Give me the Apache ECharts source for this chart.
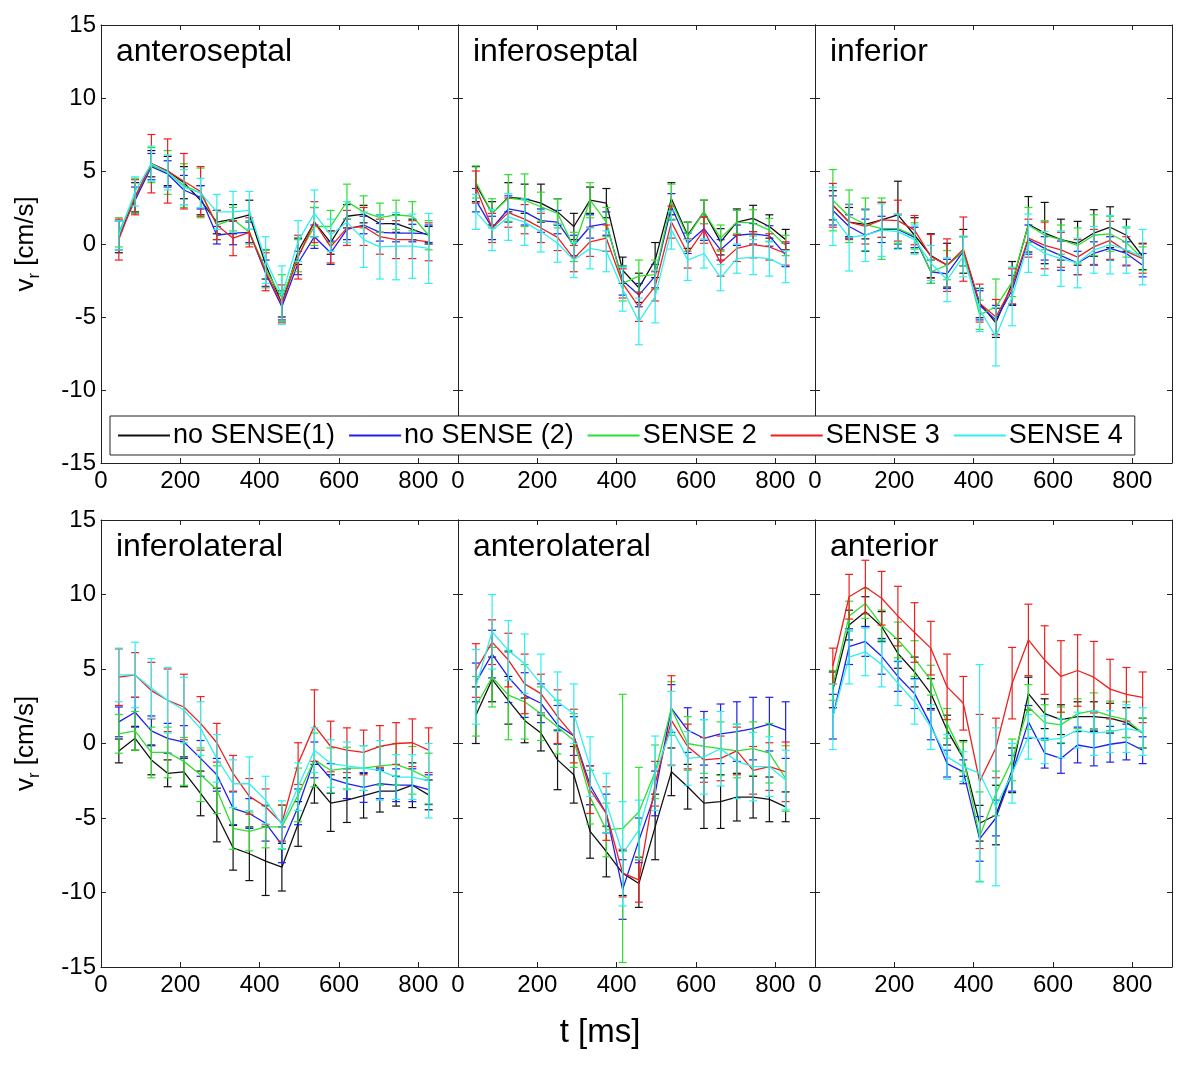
<!DOCTYPE html>
<html>
<head>
<meta charset="utf-8">
<script src="https://cdn.jsdelivr.net/npm/echarts@6/dist/echarts.min.js"></script>
<style>
html,body{margin:0;padding:0;background:#fff;}
#chart{width:1200px;height:1067px;}
</style>
</head>
<body>
<div id="chart"></div>
<script>
// ---------------- data ----------------
const times = [45, 86, 127, 168, 209, 251, 292, 333, 374, 415, 456, 497, 538, 579, 620, 662, 703, 744, 785, 826];
const seriesNames = ['no SENSE(1)', 'no SENSE (2)', 'SENSE 2', 'SENSE 3', 'SENSE 4'];
const panelTitles = ['anteroseptal', 'inferoseptal', 'inferior', 'inferolateral', 'anterolateral', 'anterior'];
const xTicks = [0, 200, 400, 600, 800];
const yTicks = [-15, -10, -5, 0, 5, 10, 15];

// rows: no SENSE(1), no SENSE (2), SENSE 2, SENSE 3, SENSE 4
const anteroseptalV = [
  [0.5, 3.2, 5.5, 5.0, 4.2, 3.0, 1.5, 1.7, 2.0, -1.4, -4.1, -0.5, 1.5, 0.1, 1.9, 2.05, 1.4, 1.4, 1.0, 0.6],
  [0.6, 3.0, 5.3, 4.8, 3.7, 3.2, 0.6, 0.75, 0.8, -2.0, -4.3, -1.3, 0.5, -0.6, 1.0, 1.3, 0.8, 0.75, 0.75, 0.7],
  [0.8, 3.3, 5.4, 4.9, 4.0, 3.5, 1.3, 1.7, 0.8, -1.7, -3.7, -0.8, 1.2, 1.2, 2.9, 2.2, 1.8, 2.0, 1.9, 0.6],
  [0.3, 3.2, 5.5, 5.0, 4.3, 3.6, 1.3, 0.4, 0.8, -1.9, -4.1, -0.9, 1.5, -0.2, 1.1, 1.2, 0.5, 0.3, 0.3, 0.15],
  [0.6, 3.6, 5.5, 4.9, 3.9, 3.5, 2.2, 2.2, 2.3, -1.1, -3.5, 0.2, 2.1, 0.6, 1.5, 0.3, -0.2, -0.15, -0.15, -0.3]
];
const anteroseptalE = [
  [1.1, 1.0, 0.9, 1.0, 1.1, 1.0, 0.8, 1.0, 1.0, 1.0, 0.9, 0.9, 1.0, 0.8, 0.8, 0.6, 0.6, 0.6, 0.7, 0.6],
  [1.0, 0.9, 0.9, 0.9, 1.0, 0.8, 0.6, 0.8, 0.7, 0.9, 0.9, 0.8, 0.8, 0.8, 0.7, 0.6, 0.6, 0.6, 0.6, 0.6],
  [1.0, 1.2, 1.2, 1.5, 1.5, 1.7, 1.0, 0.8, 0.8, 1.3, 1.6, 1.1, 1.3, 1.1, 1.2, 1.1, 1.0, 1.0, 1.0, 1.0],
  [1.4, 1.2, 2.0, 2.2, 1.9, 1.7, 1.0, 1.2, 1.0, 1.3, 1.3, 1.5, 1.4, 1.1, 1.2, 1.3, 1.2, 1.3, 1.3, 1.3],
  [1.0, 1.0, 1.2, 1.2, 1.2, 1.0, 1.2, 1.4, 1.3, 1.6, 2.0, 1.4, 1.6, 1.1, 1.4, 1.9, 2.2, 2.3, 2.2, 2.4]
];
const inferoseptalV = [
  [4.1, 2.1, 3.2, 3.1, 2.8, 2.2, 1.2, 3.0, 2.8, -1.8, -3.0, -1.1, 3.1, 0.6, 2.2, 0.15, 1.5, 1.75, 1.2, 0.3],
  [3.0, 1.1, 2.4, 2.2, 1.6, 1.5, -0.1, 1.2, 1.4, -2.5, -3.5, -2.2, 2.55, 0.05, 1.05, -0.4, 0.6, 0.7, 0.55, -0.75],
  [4.25, 2.1, 3.15, 3.0, 2.55, 2.1, -0.2, 3.0, 1.5, -2.7, -2.2, -2.1, 2.9, 0.5, 2.2, 0.4, 1.5, 1.45, 0.95, -0.1],
  [3.9, 1.1, 2.15, 1.7, 1.1, 0.45, -1.0, 0.15, 0.4, -2.7, -4.3, -2.9, 1.5, -0.65, 0.95, -1.3, -0.3, -0.05, -0.2, -0.65],
  [2.2, 0.95, 1.85, 1.5, 0.85, 0.05, -1.1, -0.3, -0.5, -3.1, -5.3, -3.6, 0.95, -1.1, -0.65, -2.3, -1.0, -0.9, -1.0, -1.55]
];
const inferoseptalE = [
  [1.2, 0.8, 1.0, 1.0, 1.3, 0.9, 0.9, 0.9, 1.0, 0.9, 1.0, 1.2, 1.1, 0.9, 0.8, 0.9, 0.9, 0.9, 0.8, 0.7],
  [0.8, 0.8, 0.9, 0.9, 0.8, 0.8, 0.7, 0.8, 0.8, 1.0, 0.8, 0.8, 0.9, 0.7, 0.8, 0.7, 0.7, 0.7, 0.7, 0.8],
  [1.1, 1.0, 1.6, 1.8, 1.0, 1.0, 1.0, 1.2, 1.0, 1.2, 1.1, 1.0, 1.2, 1.0, 0.8, 0.9, 0.8, 0.9, 0.8, 0.7],
  [1.1, 1.0, 1.0, 1.0, 1.0, 0.9, 0.9, 1.0, 0.9, 1.0, 1.0, 1.0, 1.1, 1.0, 0.9, 0.9, 0.9, 0.9, 0.9, 0.8],
  [1.2, 1.4, 1.6, 1.6, 1.4, 1.3, 1.2, 1.4, 1.4, 1.5, 1.6, 1.8, 1.3, 1.4, 1.0, 0.9, 1.0, 1.2, 1.2, 1.1]
];
const inferiorV = [
  [2.65, 1.5, 1.35, 1.65, 2.0, 0.6, -0.8, -1.45, -0.5, -4.05, -5.4, -2.7, 1.35, 0.75, 0.3, 0.05, 0.75, 1.15, 0.6, -0.85],
  [2.3, 1.2, 0.6, 1.0, 1.0, 0.45, -1.9, -2.05, -0.5, -4.2, -5.2, -3.15, 0.3, -0.3, -0.8, -1.3, -0.65, -0.3, -0.65, -1.45],
  [3.0, 1.9, 1.35, 1.05, 1.05, 0.55, -1.9, -1.45, -0.5, -4.85, -4.3, -2.6, 1.3, 0.6, 0.3, -0.1, 0.6, 0.7, 0.1, -1.0],
  [2.65, 1.5, 1.2, 1.65, 1.6, 0.95, -0.85, -1.45, -0.35, -4.05, -5.0, -2.9, 0.4, -0.1, -0.4, -0.9, -0.2, 0.25, -0.5, -1.0],
  [1.9, 0.45, 0.6, 0.95, 0.85, 0.3, -1.3, -2.45, -0.85, -4.5, -6.35, -3.6, 0.05, -0.65, -1.0, -1.3, -0.4, -0.05, -0.4, -0.9]
];
const inferiorE = [
  [1.0, 1.0, 1.0, 1.2, 2.3, 1.2, 1.5, 1.5, 1.5, 1.0, 1.0, 1.5, 1.9, 2.1, 1.4, 1.5, 1.6, 1.4, 1.1, 0.9],
  [1.0, 0.8, 1.1, 0.9, 1.0, 0.7, 0.8, 1.0, 1.0, 1.0, 1.0, 1.0, 1.0, 0.8, 1.0, 0.8, 0.8, 0.8, 0.8, 0.8],
  [2.1, 1.8, 1.8, 2.1, 1.0, 0.9, 0.8, 1.0, 1.0, 1.0, 1.9, 1.0, 1.2, 1.0, 1.0, 1.2, 1.4, 1.2, 1.0, 0.8],
  [1.5, 1.2, 1.2, 1.2, 1.4, 1.0, 1.5, 1.8, 2.2, 1.3, 1.2, 1.2, 1.3, 1.6, 1.2, 1.2, 1.2, 1.3, 1.0, 1.0],
  [2.0, 2.3, 1.8, 1.8, 1.2, 1.0, 1.2, 1.5, 1.4, 1.5, 2.0, 2.0, 2.0, 1.5, 1.9, 1.7, 1.6, 2.0, 1.6, 1.9]
];
const inferolateralV = [
  [-0.5, 0.35, -1.1, -2.0, -1.9, -3.35, -4.8, -7.0, -7.4, -7.9, -8.3, -5.4, -2.7, -4.0, -3.8, -3.5, -3.2, -3.2, -2.8, -3.45],
  [1.45, 2.1, 0.85, 0.35, 0.1, -1.0, -2.1, -4.35, -4.7, -5.35, -6.8, -4.25, -1.1, -2.35, -2.7, -2.95, -2.7, -2.8, -2.8, -3.1],
  [0.65, 0.85, -0.6, -0.6, -1.2, -2.1, -3.1, -5.7, -5.9, -5.6, -5.6, -3.45, -1.1, -1.8, -1.65, -1.65, -1.5, -1.4, -1.8, -2.35],
  [4.45, 4.6, 3.55, 2.9, 2.45, 1.35, 0.05, -2.0, -3.55, -4.25, -5.35, -1.35, 1.2, -0.2, -0.45, -0.6, -0.2, 0.0, 0.05, -0.45],
  [4.6, 4.6, 3.7, 2.9, 2.25, 1.0, -1.0, -2.7, -2.7, -3.8, -5.45, -2.9, -0.45, -1.35, -1.5, -1.65, -1.8, -2.25, -2.25, -2.5]
];
const inferolateralE = [
  [0.8, 0.8, 1.0, 0.9, 1.0, 1.5, 1.8, 1.5, 1.8, 2.3, 1.6, 1.5, 1.3, 1.9, 1.5, 1.5, 1.4, 1.0, 1.5, 1.0],
  [1.0, 1.0, 1.0, 1.0, 1.1, 1.2, 1.1, 1.1, 1.0, 1.2, 1.2, 1.2, 1.2, 1.0, 1.0, 1.0, 1.0, 1.1, 1.1, 1.0],
  [1.3, 1.3, 1.7, 1.7, 1.6, 1.8, 1.6, 1.4, 1.3, 1.4, 1.5, 1.8, 1.8, 1.5, 1.4, 1.5, 1.3, 1.4, 1.6, 1.7],
  [1.9, 1.5, 1.9, 2.1, 2.2, 1.8, 1.3, 1.2, 1.2, 1.2, 1.2, 1.4, 2.4, 1.7, 1.5, 1.5, 1.4, 1.4, 1.6, 1.5],
  [1.8, 2.2, 2.0, 2.2, 2.2, 1.8, 1.6, 1.6, 1.8, 1.6, 1.6, 1.6, 1.5, 1.6, 1.6, 1.5, 2.0, 1.5, 1.5, 2.5]
];
const anterolateralV = [
  [1.9, 4.3, 2.9, 1.55, 0.7, -1.1, -2.1, -5.9, -7.25, -8.7, -9.4, -5.6, -1.9, -2.9, -4.0, -3.9, -3.6, -3.6, -3.75, -4.25],
  [4.1, 6.0, 4.45, 3.25, 2.7, 1.25, 0.5, -2.8, -4.7, -9.8, -6.5, -3.35, 2.35, 0.9, 0.35, 0.65, 0.8, 1.0, 1.3, 0.9],
  [2.5, 4.45, 3.25, 2.8, 2.0, 1.1, 0.2, -3.6, -5.8, -5.7, -4.6, -1.9, 2.35, 0.0, -0.2, -0.35, -0.5, -0.35, -0.65, -2.35],
  [4.9, 6.8, 5.6, 4.0, 3.35, 1.8, 0.5, -3.1, -4.7, -8.7, -9.15, -2.7, 1.55, -0.2, -1.1, -1.0, -0.5, -1.8, -1.55, -1.9],
  [3.8, 7.5, 6.25, 5.35, 4.0, 2.8, 2.0, -1.55, -4.0, -7.4, -5.8, -2.0, 1.0, -1.0, -0.9, -0.35, -1.2, -1.55, -1.55, -2.45]
];
const anterolateralE = [
  [1.9, 1.5, 1.6, 1.5, 1.2, 2.0, 1.9, 1.8, 1.7, 1.5, 1.6, 2.2, 1.6, 1.5, 1.7, 1.8, 1.6, 1.4, 1.5, 1.0],
  [1.3, 1.6, 1.7, 1.5, 1.3, 1.3, 1.3, 1.3, 1.3, 2.0, 1.5, 1.5, 1.6, 1.5, 1.8, 2.0, 2.0, 2.1, 1.8, 1.9],
  [2.0, 2.0, 3.0, 2.5, 1.8, 1.8, 1.8, 1.8, 1.8, 9.0, 3.0, 1.8, 1.8, 1.8, 1.8, 1.8, 1.8, 1.8, 2.0, 2.2],
  [1.8, 1.5, 1.8, 2.0, 1.3, 1.8, 1.8, 1.6, 1.8, 1.6, 1.5, 1.5, 3.0, 1.5, 1.5, 1.5, 1.6, 1.6, 1.6, 2.0],
  [2.5, 2.5, 2.0, 2.0, 2.0, 2.0, 2.0, 2.0, 2.0, 3.5, 2.0, 2.5, 2.5, 1.8, 2.5, 2.5, 2.5, 2.3, 2.0, 2.0]
];
const anteriorV = [
  [3.6, 7.95, 8.85, 7.85, 6.05, 4.8, 3.35, 0.9, -1.0, -5.35, -4.8, -1.8, 3.35, 2.0, 1.6, 1.8, 1.8, 1.7, 1.4, 0.7],
  [1.8, 6.5, 6.85, 5.85, 4.5, 3.35, 1.25, -1.35, -1.9, -6.4, -5.0, -2.0, 1.45, -0.65, -1.0, -0.1, -0.3, -0.05, 0.1, -0.45],
  [3.9, 8.55, 9.4, 7.95, 6.95, 5.7, 4.25, 1.35, -0.9, -6.25, -3.35, -1.1, 2.45, 1.4, 1.25, 2.0, 2.2, 1.85, 1.6, 0.7],
  [5.2, 9.85, 10.5, 9.75, 8.55, 7.45, 6.4, 3.8, 2.7, -2.55, -0.3, 4.05, 6.95, 5.6, 4.5, 4.9, 4.45, 3.65, 3.3, 3.1],
  [1.8, 5.8, 6.15, 5.3, 4.05, 2.8, 1.1, -0.9, -1.55, -2.0, -4.25, -2.0, 0.45, 0.25, 0.35, 0.9, 0.7, 0.8, 1.0, 0.8]
];
const anteriorE = [
  [1.2, 1.0, 1.0, 1.0, 1.0, 1.0, 1.0, 1.0, 1.2, 1.2, 2.0, 1.5, 1.1, 1.0, 1.0, 1.0, 1.0, 1.0, 1.0, 1.0],
  [1.5, 1.2, 1.0, 1.2, 1.0, 1.0, 1.0, 0.9, 0.8, 1.5, 1.2, 1.2, 1.1, 1.0, 1.0, 1.2, 1.2, 1.2, 1.2, 0.9],
  [1.0, 1.0, 1.0, 1.0, 1.2, 1.2, 1.0, 1.0, 1.0, 3.0, 1.5, 1.4, 1.5, 1.2, 1.2, 1.0, 1.2, 1.0, 1.2, 1.0],
  [1.2, 1.5, 1.8, 1.8, 2.0, 2.0, 1.8, 2.2, 1.8, 4.5, 2.0, 2.4, 2.4, 2.3, 2.4, 2.4, 2.4, 2.0, 1.8, 1.7],
  [2.2, 1.8, 1.6, 1.5, 1.5, 1.5, 1.5, 1.5, 1.0, 7.3, 5.3, 2.0, 1.5, 1.6, 1.3, 1.2, 1.5, 1.4, 1.6, 1.6]
];

const panelValues = [anteroseptalV, inferoseptalV, inferiorV, inferolateralV, anterolateralV, anteriorV];
const panelErrors = [anteroseptalE, inferoseptalE, inferiorE, inferolateralE, anterolateralE, anteriorE];

// ---------------- style / layout ----------------
const colors = ['#111111', '#1f1fef', '#2fdf2f', '#ef1f1f', '#2fefef'];
const FONT = "Arial, 'Liberation Sans', sans-serif";
const colLeft = [101, 458, 815];
const panelW = 357;
const rowTop = [25, 520];
const rowH = [438, 447];

const grids = [], xAxes = [], yAxes = [], series = [], graphics = [];

function axLine() { return { show: true, onZero: false, lineStyle: { color: '#222', width: 1 } }; }
function axTick() { return { show: true, inside: true, length: 5, lineStyle: { color: '#222' } }; }

for (let p = 0; p < 6; p++) {
  const row = Math.floor(p / 3), col = p % 3;
  grids.push({ left: colLeft[col], top: rowTop[row], width: panelW, height: rowH[row], containLabel: false });
  xAxes.push({
    type: 'value', gridIndex: p, position: 'bottom', min: 0, max: 900, interval: 200,
    axisLine: axLine(), axisTick: axTick(), splitLine: { show: false },
    axisLabel: { show: true, showMaxLabel: false, color: '#000', fontSize: 24, fontFamily: FONT, margin: 6,
      formatter: v => (xTicks.indexOf(v) >= 0 ? String(v) : '') }
  });
  xAxes.push({
    type: 'value', gridIndex: p, position: 'top', min: 0, max: 900, interval: 200,
    axisLine: axLine(), axisTick: axTick(), splitLine: { show: false }, axisLabel: { show: false }
  });
  const yLeft = {
    type: 'value', gridIndex: p, position: 'left', min: -15, max: 15, interval: 5,
    axisLine: axLine(), axisTick: axTick(), splitLine: { show: false },
    axisLabel: { show: col === 0, color: '#000', fontSize: 24, fontFamily: FONT, margin: 5,
      formatter: v => (yTicks.indexOf(v) >= 0 ? String(v) : '') }
  };
  if (col === 0) {
    yLeft.name = '{a|v}{s|r}{a| [cm/s]}';
    yLeft.nameLocation = 'middle';
    yLeft.nameGap = 58;
    yLeft.nameTextStyle = {
      color: '#000', fontFamily: FONT,
      rich: {
        a: { fontSize: 26, lineHeight: 34, color: '#000', fontFamily: FONT },
        s: { fontSize: 17, lineHeight: 18, verticalAlign: 'bottom', color: '#000', fontFamily: FONT }
      }
    };
  }
  yAxes.push(yLeft);
  yAxes.push({
    type: 'value', gridIndex: p, position: 'right', min: -15, max: 15, interval: 5,
    axisLine: axLine(), axisTick: axTick(), splitLine: { show: false }, axisLabel: { show: false }
  });

  for (let s = 0; s < 5; s++) {
    const vals = panelValues[p][s];
    const errs = panelErrors[p][s];
    const color = colors[s];
    series.push({
      type: 'custom', name: seriesNames[s] + ' err', xAxisIndex: 2 * p, yAxisIndex: 2 * p,
      z: 2 + s, clip: true, silent: true, animation: false,
      data: times.map((t, i) => [t, vals[i], errs[i]]),
      encode: { x: 0, y: 1 },
      renderItem: function (params, api) {
        const x = api.value(0), y = api.value(1), e = api.value(2);
        const top = api.coord([x, y + e]);
        const bot = api.coord([x, y - e]);
        const hw = 4;
        const st = { stroke: color, lineWidth: 1.2, fill: null };
        return {
          type: 'group', children: [
            { type: 'line', shape: { x1: top[0], y1: top[1], x2: bot[0], y2: bot[1] }, style: st },
            { type: 'line', shape: { x1: top[0] - hw, y1: top[1], x2: top[0] + hw, y2: top[1] }, style: st },
            { type: 'line', shape: { x1: bot[0] - hw, y1: bot[1], x2: bot[0] + hw, y2: bot[1] }, style: st }
          ]
        };
      }
    });
    series.push({
      type: 'line', name: seriesNames[s], xAxisIndex: 2 * p, yAxisIndex: 2 * p,
      z: 2 + s, symbol: 'none', showSymbol: false, animation: false,
      color: color,
      lineStyle: { color: color, width: 1.3 },
      itemStyle: { color: color },
      data: times.map((t, i) => [t, vals[i]])
    });
  }

  graphics.push({
    type: 'text', left: colLeft[col] + 15, top: rowTop[row] + 11, z: 10,
    style: { text: panelTitles[p], font: '32px ' + FONT, fill: '#000' }
  });
}

graphics.push({
  type: 'text', left: 'center', top: 1016, z: 10,
  style: { text: 't [ms]', font: '33px ' + FONT, fill: '#000' }
});

const option = {
  backgroundColor: '#fff',
  animation: false,
  grid: grids,
  xAxis: xAxes,
  yAxis: yAxes,
  legend: {
    data: seriesNames,
    left: 110, top: 416,
    orient: 'horizontal',
    icon: 'rect', itemWidth: 52, itemHeight: 2, itemGap: 14,
    padding: [6, 12, 6, 8],
    backgroundColor: '#fff', borderColor: '#222', borderWidth: 1, borderRadius: 0,
    textStyle: { fontSize: 27, fontFamily: FONT, color: '#000', padding: [0, 0, 0, -2] },
    selectedMode: false,
    z: 20
  },
  graphic: graphics,
  series: series
};

const chart = echarts.init(document.getElementById('chart'), null, { renderer: 'canvas' });
chart.setOption(option);
</script>
</body>
</html>
